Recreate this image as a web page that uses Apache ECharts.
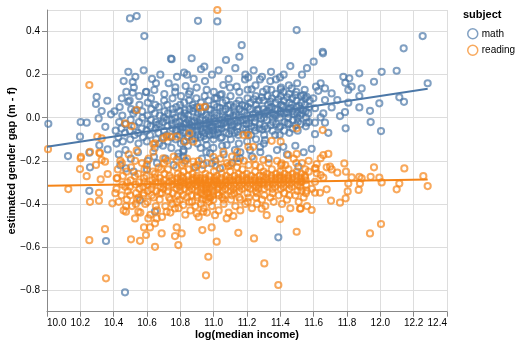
<!DOCTYPE html>
<html>
<head>
<meta charset="utf-8">
<script src="https://cdn.jsdelivr.net/npm/echarts@6/dist/echarts.min.js"></script>
<style>html,body{margin:0;padding:0;background:#fff}#c{width:520px;height:347px}</style>
</head>
<body>
<div id="c"></div>
<script>
var xTicks = [10.0,10.2,10.4,10.6,10.8,11.0,11.2,11.4,11.6,11.8,12.0,12.2,12.4];
var yTicks = [-0.8,-0.6,-0.4,-0.2,0.0,0.2,0.4];
var seriesNames = ['math','reading'];

var mathPoints = [
[10.008,-0.028],[10.202,-0.02],[10.238,-0.023],[10.126,-0.178],[10.198,-0.088],[10.254,-0.162],[10.298,0.097],[10.294,0.064],[10.362,0.079],[10.328,0.031],[10.384,0.016],[10.31,-0.003],[10.35,-0.042],[10.364,-0.147],[10.314,-0.128],
[10.498,0.461],[10.538,0.472],[10.584,0.379],[10.744,0.274],[10.488,0.213],[10.514,0.166],[10.488,0.074],[10.514,0.116],[10.594,0.119],[10.644,0.129],[10.528,0.032],
[10.906,0.45],[11.022,0.447],[11.498,0.407],[11.168,0.337],[11.154,0.283],[11.074,0.268],[10.868,0.276],[10.748,0.272],[10.822,0.209],[10.924,0.225],[10.944,0.237],[11.344,0.213],[11.278,0.178],[11.374,0.178],[11.398,0.187],[11.208,0.187],[11.188,0.178],[11.058,0.152],[11.138,0.144],[11.228,0.132],[11.318,0.132],[11.468,0.136],[11.402,0.132],[10.77,0.141],[10.832,0.147],[10.858,0.121],[10.958,0.129],[11.04,0.105],[11.008,0.09],
[12.254,0.379],[12.14,0.322],[11.654,0.306],[11.656,0.299],[12.098,0.218],[12.008,0.213],[11.874,0.206],[11.962,0.167],[12.284,0.16],[11.778,0.19],[11.814,0.183],[11.79,0.162],[11.888,0.136],[11.828,0.144],[11.808,0.129],[11.642,0.16],[11.614,0.144],[11.628,0.125],[11.668,0.136],[11.708,0.113],[11.874,0.101],[12.114,0.095],[12.142,0.074],[11.994,0.067],[11.808,0.07],[11.874,0.048],[11.938,0.032],[11.742,0.082],[11.668,0.082],[11.598,0.09],[11.558,0.097],[11.538,0.105],[11.708,0.048],[11.608,0.044],[11.658,0.02],[11.758,0.008],[11.788,0.026],[11.528,0.02],[11.558,-0.023],[11.608,-0.023],[11.668,-0.023],[11.642,0.002],[11.942,-0.02],[11.792,-0.049],[12.004,-0.062],[11.608,-0.076],[11.688,-0.07],[11.588,-0.144],
[10.254,-0.339],[10.354,-0.572],[10.468,-0.81],[10.558,-0.382],[10.648,-0.436],[11.388,-0.555],[10.474,-0.235],[10.258,-0.23],[10.788,-0.165],[10.818,-0.181],[10.978,-0.165],[11.158,-0.188],[11.218,-0.15],[11.508,-0.227],[10.988,-0.212],
[10.818,-0.158],[10.958,-0.127],[11.078,-0.127],[11.128,-0.15],[11.308,-0.104],[11.278,-0.135],[11.418,-0.135],[10.778,-0.057],[10.658,-0.034],[10.938,-0.219],[11.138,-0.188],[11.038,-0.235],[10.642,-0.181],[10.788,-0.181],
[10.46,0.17],[10.53,0.19],[10.58,0.22],[10.63,0.18],[10.68,0.2],[10.73,0.16],[10.78,0.19],[10.84,0.2],[10.88,0.18],[10.99,0.2],[11.03,0.22],[11.09,0.18],[11.13,0.23],[11.19,0.2],[11.24,0.22],[11.29,0.19],[11.34,0.17],[11.42,0.2],[11.46,0.24],[11.53,0.2],[11.56,0.23],[11.6,0.26],
[10.44,-0.22],[10.52,-0.25],[10.6,-0.24],[10.66,-0.21],[10.71,-0.19],[10.76,-0.22],[10.83,-0.2],[10.89,-0.23],[10.93,-0.19],[11.01,-0.2],[11.06,-0.17],[11.11,-0.21],[11.16,-0.16],[11.23,-0.18],[11.28,-0.16],[11.33,-0.19],[11.38,-0.15],[11.44,-0.17],[11.49,-0.13],[11.54,-0.16],
[10.412,-0.06],[10.405,0.03],[10.417,-0.12],[10.433,-0.02],[10.428,-0.09],[10.436,0.05],[10.431,-0.17],[10.452,0.01],[10.447,-0.05],[10.455,-0.11],[10.449,0.09],
[10.472,-0.03],[10.468,-0.07],[10.476,0.12],[10.471,-0.15],[10.502,-0.01],[10.497,-0.06],[10.505,0.04],[10.499,-0.1],[10.503,-0.19],[10.496,0.08],
[10.523,-0.04],[10.518,0.02],[10.526,-0.08],[10.521,0.14],[10.552,-0.02],[10.547,-0.07],[10.555,0.06],[10.549,-0.12],[10.553,0.1],[10.546,-0.16],
[10.573,0.0],[10.568,-0.05],[10.576,-0.09],[10.571,0.03],[10.602,-0.03],[10.597,-0.06],[10.605,0.07],[10.599,-0.11],[10.603,0.01],[10.596,0.12],[10.604,-0.2],
[10.623,-0.01],[10.618,-0.08],[10.626,0.04],[10.621,-0.04],[10.624,0.09],[10.652,-0.05],[10.647,0.02],[10.655,-0.1],[10.649,0.06],[10.653,-0.02],[10.646,-0.14],[10.654,0.16],
[10.673,-0.03],[10.668,-0.07],[10.676,0.01],[10.671,0.05],[10.674,-0.12],[10.702,-0.06],[10.697,-0.02],[10.705,0.03],[10.699,-0.09],[10.703,0.08],[10.696,-0.13],[10.704,0.11],[10.701,0.0],
[10.723,-0.04],[10.718,-0.08],[10.726,0.02],[10.721,0.06],[10.724,-0.11],[10.719,-0.01],[10.752,-0.05],[10.747,-0.01],[10.755,0.04],[10.749,-0.09],[10.753,0.09],[10.746,-0.14],[10.754,0.02],[10.751,-0.03],
[10.773,-0.06],[10.768,0.0],[10.776,0.05],[10.771,-0.1],[10.774,-0.02],[10.769,0.12],[10.802,-0.04],[10.797,-0.08],[10.805,0.01],[10.799,0.06],[10.803,-0.12],[10.796,-0.02],[10.804,0.1],[10.801,-0.06],[10.798,0.03],
[10.823,-0.03],[10.818,-0.07],[10.826,0.02],[10.821,-0.11],[10.824,0.07],[10.819,-0.15],[10.822,0.0],[10.852,-0.05],[10.847,-0.01],[10.855,0.04],[10.849,-0.09],[10.853,0.08],[10.846,-0.13],[10.854,-0.03],[10.851,0.11],[10.848,0.01],
[10.873,-0.06],[10.868,-0.02],[10.876,0.03],[10.871,-0.1],[10.874,0.06],[10.869,-0.04],[10.902,-0.04],[10.897,0.0],[10.905,-0.08],[10.899,0.05],[10.903,-0.12],[10.896,0.09],[10.904,-0.02],[10.901,-0.06],[10.898,0.14],[10.906,0.02],
[10.923,-0.05],[10.918,-0.01],[10.926,0.03],[10.921,-0.09],[10.924,0.07],[10.919,-0.03],[10.922,-0.14],[10.952,-0.03],[10.947,-0.07],[10.955,0.01],[10.949,0.05],[10.953,-0.1],[10.946,0.1],[10.954,-0.05],[10.951,-0.01],[10.948,0.17],[10.956,-0.16],
[10.973,-0.04],[10.968,0.0],[10.976,-0.08],[10.971,0.04],[10.974,-0.02],[10.969,0.08],[10.972,-0.06],[11.002,-0.02],[10.997,-0.06],[11.005,0.02],[10.999,-0.1],[11.003,0.06],[10.996,-0.04],[11.004,0.0],[11.001,0.12],[10.998,-0.14],[11.006,-0.08],
[11.023,-0.03],[11.018,0.01],[11.026,-0.07],[11.021,0.05],[11.024,-0.05],[11.019,0.09],[11.052,-0.01],[11.047,-0.05],[11.055,0.03],[11.049,-0.09],[11.053,0.07],[11.046,-0.03],[11.054,0.01],[11.051,-0.13],[11.048,0.11],
[11.073,-0.04],[11.068,0.0],[11.076,-0.07],[11.071,0.04],[11.074,0.08],[11.069,-0.02],[11.102,-0.02],[11.097,0.02],[11.105,-0.06],[11.099,0.06],[11.103,-0.1],[11.096,0.0],[11.104,-0.04],[11.101,0.1],[11.098,0.14],
[11.123,-0.03],[11.118,0.01],[11.126,-0.07],[11.121,0.05],[11.124,0.03],[11.152,0.0],[11.147,-0.04],[11.155,0.04],[11.149,-0.08],[11.153,0.08],[11.146,-0.02],[11.154,0.12],[11.151,-0.12],
[11.173,-0.01],[11.168,0.03],[11.176,-0.05],[11.171,0.06],[11.202,0.01],[11.197,-0.03],[11.205,0.05],[11.199,-0.07],[11.203,0.09],[11.196,-0.01],[11.204,0.13],[11.201,-0.11],
[11.223,0.0],[11.218,0.04],[11.226,-0.04],[11.221,0.07],[11.224,-0.08],[11.252,0.02],[11.247,-0.02],[11.255,0.06],[11.249,-0.06],[11.253,0.1],[11.246,0.0],[11.254,-0.1],[11.251,0.15],
[11.273,0.01],[11.268,0.04],[11.276,-0.03],[11.271,0.08],[11.274,-0.05],[11.302,0.0],[11.297,0.04],[11.305,-0.04],[11.299,0.08],[11.303,-0.08],[11.296,0.12],[11.304,0.02],[11.301,-0.12],
[11.323,0.03],[11.318,-0.01],[11.326,0.06],[11.321,-0.05],[11.324,0.1],[11.352,0.02],[11.347,0.05],[11.355,-0.02],[11.349,0.09],[11.353,-0.06],[11.346,0.13],[11.354,0.0],
[11.373,0.01],[11.368,0.04],[11.376,-0.03],[11.371,0.07],[11.374,0.11],[11.369,-0.08],[11.402,0.03],[11.397,0.0],[11.405,0.06],[11.399,-0.04],[11.403,0.1],[11.396,-0.08],[11.404,0.14],[11.401,0.02],
[11.423,0.02],[11.418,0.05],[11.426,-0.02],[11.421,0.08],[11.424,-0.06],[11.419,0.12],[11.452,0.04],[11.447,0.0],[11.455,0.07],[11.449,-0.03],[11.453,0.11],[11.446,0.02],[11.454,-0.07],[11.451,0.15],
[11.473,0.03],[11.468,0.06],[11.476,-0.01],[11.471,0.09],[11.474,-0.05],[11.502,0.02],[11.497,0.05],[11.505,-0.02],[11.499,0.08],[11.503,0.0],[11.496,0.12],[11.504,-0.06],[11.501,0.16],
[11.523,0.04],[11.518,0.01],[11.526,0.07],[11.521,-0.03],[11.524,0.1],[11.552,0.03],[11.547,0.06],[11.555,0.0],[11.549,0.09],[11.553,-0.04],[11.546,0.13],[11.573,0.05],[11.568,0.02],[11.576,0.08],[11.571,-0.02],
[10.812,-0.045],[10.836,-0.025],[10.861,-0.055],[10.884,-0.015],[10.909,-0.035],[10.931,-0.065],[10.962,-0.025],[10.984,-0.045],[11.011,-0.015],[11.033,-0.055],[11.061,-0.025],[11.084,-0.005],[11.112,-0.035],[11.134,0.015],[11.162,-0.015],[11.184,0.025],[11.212,-0.025],[11.236,0.015],[11.262,0.035],[11.284,-0.005],[11.312,0.025],[11.336,0.045],[11.362,0.015],[11.384,0.035],[11.412,0.055],[11.436,0.025],[11.462,0.045],[11.484,0.015],[11.512,0.055],[11.536,0.035],
[10.828,0.035],[10.879,0.045],[10.927,0.025],[10.982,0.035],[11.038,0.045],[11.087,0.055],[11.137,0.065],[11.188,0.055],[11.241,0.085],[11.289,0.095],[11.341,0.075],[11.389,0.085],[11.441,0.095],[11.491,0.105],
[10.843,-0.085],[10.889,-0.095],[10.941,-0.085],[10.993,-0.075],[11.042,-0.095],[11.092,-0.075],[11.143,-0.065],[11.193,-0.055],[11.244,-0.045],[11.293,-0.055],[11.342,-0.035],[11.393,-0.045],[11.443,-0.025],[11.493,-0.035]
];

var readingPoints = [
[10.006,-0.146],[10.254,0.152],[11.022,0.5],[10.538,0.036],[10.468,-0.026],[10.508,-0.039],[10.302,-0.088],[10.328,-0.096],[10.718,-0.088],[10.778,-0.088],[10.638,-0.122],[10.538,-0.153],[10.204,-0.181],[10.314,-0.162],[10.258,-0.158],
[10.918,0.048],[10.948,0.051],[11.178,-0.08],[11.208,-0.08],[11.498,-0.049],[11.654,-0.057],[11.402,-0.111],[11.348,-0.107],[10.854,-0.072],[10.698,-0.096],[10.738,-0.088],[10.648,-0.119],[10.828,-0.111],[10.878,-0.111],[11.058,-0.158],[11.142,-0.158],[11.208,-0.135],[11.238,-0.135],[11.658,-0.173],[11.612,-0.235],[10.638,-0.158],[10.698,-0.188],[10.778,-0.196],[10.878,-0.204],[10.998,-0.181],[11.088,-0.224],[11.148,-0.204],[11.298,-0.196],[11.408,-0.212],[11.498,-0.168],[11.448,-0.173],
[10.202,-0.188],[10.198,-0.238],[10.294,-0.219],[10.328,-0.196],[10.348,-0.204],[10.318,-0.165],[10.238,-0.271],[10.322,-0.286],[10.364,-0.261],[10.128,-0.331],[10.258,-0.39],[10.312,-0.348],[10.312,-0.385],[10.392,-0.397],[10.418,-0.281],[10.348,-0.517],[10.254,-0.568],[10.354,-0.745],
[10.504,-0.564],[10.558,-0.571],[10.594,-0.544],[10.648,-0.599],[10.582,-0.509],[10.618,-0.509],[10.688,-0.537],[10.648,-0.49],[10.658,-0.467],[10.608,-0.467],[10.528,-0.467],[10.474,-0.436],[10.548,-0.436],[10.474,-0.41],[10.778,-0.509],[10.768,-0.549],[10.788,-0.591],[10.718,-0.436],
[10.968,-0.645],[10.954,-0.731],[11.388,-0.776],[11.304,-0.676],[10.808,-0.537],[10.932,-0.521],[10.988,-0.509],[11.018,-0.575],[11.148,-0.534],[11.242,-0.56],[11.498,-0.529],[11.398,-0.47],[11.518,-0.422],[11.318,-0.452],[11.288,-0.422],[11.078,-0.467],[11.118,-0.456],[11.008,-0.452],[10.898,-0.444],[10.938,-0.436],[10.818,-0.405],[10.768,-0.421],
[11.938,-0.537],[12.004,-0.493],[12.144,-0.235],[11.962,-0.23],[12.258,-0.271],[12.284,-0.317],[12.098,-0.332],[12.114,-0.305],[12.008,-0.3],[11.994,-0.278],[11.942,-0.274],[11.888,-0.281],[11.874,-0.274],[11.878,-0.305],[11.87,-0.335],[11.808,-0.305],[11.804,-0.342],[11.792,-0.374],[11.758,-0.394],[11.704,-0.385],[11.588,-0.428],[11.522,-0.421],
[11.784,-0.212],[11.794,-0.25],[11.828,-0.277],[11.742,-0.255],[11.708,-0.24],[11.698,-0.227],[11.678,-0.23],[11.642,-0.266],[11.658,-0.278],[11.608,-0.235],[11.618,-0.215],[11.642,-0.188],[11.688,-0.168],[11.608,-0.297],[11.608,-0.348],[11.638,-0.348],[11.678,-0.332],[11.558,-0.339],[11.528,-0.339],[11.548,-0.277],[11.528,-0.297],[11.618,-0.258],
[10.422,-0.28],[10.417,-0.33],[10.425,-0.24],[10.452,-0.31],[10.447,-0.36],[10.455,-0.27],[10.449,-0.21],[10.482,-0.3],[10.477,-0.25],[10.485,-0.34],[10.479,-0.38],
[10.502,-0.29],[10.497,-0.32],[10.505,-0.23],[10.499,-0.36],[10.532,-0.31],[10.527,-0.27],[10.535,-0.35],[10.529,-0.2],[10.533,-0.4],
[10.552,-0.3],[10.547,-0.26],[10.555,-0.33],[10.549,-0.37],[10.582,-0.28],[10.577,-0.32],[10.585,-0.24],[10.579,-0.36],[10.583,-0.3],
[10.602,-0.31],[10.597,-0.27],[10.605,-0.34],[10.599,-0.22],[10.603,-0.39],[10.632,-0.29],[10.627,-0.33],[10.635,-0.25],[10.629,-0.36],[10.633,-0.31],
[10.652,-0.3],[10.647,-0.26],[10.655,-0.34],[10.649,-0.28],[10.653,-0.41],[10.682,-0.32],[10.677,-0.28],[10.685,-0.24],[10.679,-0.35],[10.683,-0.3],[10.676,-0.38],
[10.702,-0.29],[10.697,-0.33],[10.705,-0.26],[10.699,-0.31],[10.703,-0.21],[10.732,-0.3],[10.727,-0.34],[10.735,-0.27],[10.729,-0.32],[10.733,-0.37],[10.726,-0.24],
[10.752,-0.31],[10.747,-0.28],[10.755,-0.35],[10.749,-0.29],[10.753,-0.4],[10.782,-0.3],[10.777,-0.33],[10.785,-0.26],[10.779,-0.31],[10.783,-0.36],[10.776,-0.23],[10.784,-0.28],
[10.802,-0.29],[10.797,-0.32],[10.805,-0.27],[10.799,-0.34],[10.803,-0.3],[10.796,-0.38],[10.822,-0.31],[10.817,-0.28],[10.825,-0.33],[10.819,-0.25],[10.823,-0.3],[10.816,-0.36],[10.824,-0.21],
[10.852,-0.3],[10.847,-0.27],[10.855,-0.32],[10.849,-0.29],[10.853,-0.34],[10.846,-0.31],[10.854,-0.39],[10.851,-0.24],[10.872,-0.29],[10.867,-0.31],[10.875,-0.28],[10.869,-0.33],[10.873,-0.26],[10.866,-0.36],
[10.902,-0.3],[10.897,-0.28],[10.905,-0.32],[10.899,-0.27],[10.903,-0.34],[10.896,-0.31],[10.904,-0.37],[10.901,-0.22],[10.898,-0.29],
[10.922,-0.31],[10.917,-0.29],[10.925,-0.33],[10.919,-0.28],[10.923,-0.35],[10.916,-0.3],[10.924,-0.4],
[10.952,-0.3],[10.947,-0.28],[10.955,-0.32],[10.949,-0.34],[10.953,-0.31],[10.946,-0.36],[10.954,-0.38],[10.951,-0.26],[10.948,-0.29],[10.956,-0.33],
[10.972,-0.29],[10.967,-0.31],[10.975,-0.33],[10.969,-0.35],[10.973,-0.37],[10.966,-0.3],[10.974,-0.27],[10.971,-0.39],
[11.002,-0.3],[10.997,-0.32],[11.005,-0.28],[10.999,-0.34],[11.003,-0.31],[10.996,-0.36],[11.004,-0.29],[11.001,-0.25],[10.998,-0.38],
[11.022,-0.31],[11.017,-0.29],[11.025,-0.33],[11.019,-0.27],[11.023,-0.35],[11.016,-0.3],
[11.052,-0.3],[11.047,-0.28],[11.055,-0.32],[11.049,-0.26],[11.053,-0.34],[11.046,-0.31],[11.054,-0.23],[11.051,-0.37],
[11.072,-0.29],[11.067,-0.31],[11.075,-0.27],[11.069,-0.33],[11.073,-0.3],[11.066,-0.36],
[11.102,-0.3],[11.097,-0.28],[11.105,-0.32],[11.099,-0.25],[11.103,-0.34],[11.096,-0.29],[11.104,-0.38],[11.101,-0.22],
[11.122,-0.31],[11.117,-0.29],[11.125,-0.27],[11.119,-0.33],[11.123,-0.35],
[11.152,-0.3],[11.147,-0.28],[11.155,-0.32],[11.149,-0.26],[11.153,-0.34],[11.146,-0.29],[11.154,-0.37],
[11.172,-0.29],[11.167,-0.31],[11.175,-0.27],[11.169,-0.33],[11.173,-0.24],
[11.202,-0.3],[11.197,-0.28],[11.205,-0.32],[11.199,-0.26],[11.203,-0.35],[11.196,-0.29],[11.204,-0.39],
[11.222,-0.29],[11.217,-0.31],[11.225,-0.27],[11.219,-0.33],
[11.252,-0.3],[11.247,-0.28],[11.255,-0.32],[11.249,-0.25],[11.253,-0.34],[11.246,-0.29],[11.254,-0.37],[11.251,-0.22],
[11.272,-0.29],[11.267,-0.31],[11.275,-0.27],[11.269,-0.33],[11.273,-0.3],
[11.302,-0.29],[11.297,-0.27],[11.305,-0.31],[11.299,-0.25],[11.303,-0.33],[11.296,-0.3],[11.304,-0.36],
[11.322,-0.3],[11.317,-0.28],[11.325,-0.32],[11.319,-0.26],
[11.352,-0.29],[11.347,-0.27],[11.355,-0.31],[11.349,-0.24],[11.353,-0.33],[11.346,-0.28],[11.354,-0.35],
[11.372,-0.28],[11.367,-0.3],[11.375,-0.26],[11.369,-0.32],
[11.402,-0.29],[11.397,-0.27],[11.405,-0.31],[11.399,-0.25],[11.403,-0.33],[11.396,-0.28],[11.404,-0.22],
[11.422,-0.28],[11.417,-0.3],[11.425,-0.26],[11.419,-0.32],[11.423,-0.35],
[11.452,-0.29],[11.447,-0.27],[11.455,-0.31],[11.449,-0.24],[11.453,-0.33],[11.446,-0.28],[11.454,-0.36],
[11.472,-0.28],[11.467,-0.3],[11.475,-0.26],[11.469,-0.32],
[11.502,-0.29],[11.497,-0.27],[11.505,-0.31],[11.499,-0.25],[11.503,-0.34],[11.496,-0.21],
[11.522,-0.28],[11.517,-0.3],[11.525,-0.26],[11.519,-0.32],
[11.552,-0.29],[11.547,-0.27],[11.555,-0.31],[11.549,-0.24],[11.553,-0.35],
[10.43,-0.39],[10.46,-0.43],[10.51,-0.41],[10.56,-0.44],[10.59,-0.40],[10.62,-0.45],[10.66,-0.43],[10.69,-0.46],[10.71,-0.41],[10.74,-0.44],[10.79,-0.42],[10.83,-0.45],[10.86,-0.43],[10.89,-0.41],[10.91,-0.46],[10.94,-0.42],[10.96,-0.44],[10.99,-0.41],[11.03,-0.43],[11.06,-0.40],[11.09,-0.44],[11.13,-0.41],[11.16,-0.43],[11.19,-0.40],[11.23,-0.42],[11.26,-0.40],[11.31,-0.41],[11.36,-0.39],[11.41,-0.40],[11.46,-0.42],[11.51,-0.39],[11.56,-0.41],
[10.44,-0.2],[10.49,-0.17],[10.57,-0.21],[10.61,-0.19],[10.67,-0.23],[10.72,-0.2],[10.76,-0.18],[10.81,-0.22],[10.84,-0.19],[10.88,-0.23],[10.91,-0.2],[10.93,-0.24],[10.96,-0.21],[11.01,-0.22],[11.04,-0.19],[11.08,-0.21],[11.11,-0.18],[11.14,-0.23],[11.18,-0.2],[11.21,-0.22],[11.24,-0.19],[11.28,-0.23],[11.33,-0.21],[11.38,-0.2],[11.43,-0.22],[11.48,-0.19],[11.53,-0.21],[11.57,-0.2],
[10.41,-0.35],[10.47,-0.32],[10.54,-0.38],[10.58,-0.35],[10.64,-0.37],[10.69,-0.35],[10.74,-0.38],[10.78,-0.39],[10.84,-0.37],[10.87,-0.39],[10.9,-0.36],[10.93,-0.38],[10.96,-0.35],[10.98,-0.37],[11.03,-0.36],[11.06,-0.38],[11.11,-0.36],[11.16,-0.38],[11.21,-0.37],[11.26,-0.35],[11.29,-0.38],[11.34,-0.37],[11.39,-0.36],[11.44,-0.38],[11.49,-0.36],[11.54,-0.37],[11.59,-0.33],[11.57,-0.25]
];

var mathTrend = [[10.0,-0.135],[12.284,0.135]];
var readingTrend = [[10.006,-0.316],[12.284,-0.287]];

var colors = {math:'#4c78a8', reading:'#f58518'};
var FONT = 'Liberation Sans, Arial, Helvetica, sans-serif';

function fmt(v){
  var s = Math.abs(v).toFixed(1);
  return (v < -1e-9 ? '\u2212' : '') + s;
}

var chart = echarts.init(document.getElementById('c'), null, {renderer:'canvas'});
function scatter(name, pts){
  return {
    type:'scatter', name:name, data:pts, symbol:'circle', symbolSize:6.2,
    itemStyle:{color:'rgba(0,0,0,0)', borderColor:colors[name], borderWidth:2, opacity:0.7},
    emphasis:{disabled:true}, silent:true, z:2
  };
}
function trend(name, pts){
  return {
    type:'line', name:name+' trend', data:pts, symbol:'none', showSymbol:false,
    lineStyle:{color:colors[name], width:2}, z:3, silent:true
  };
}
chart.setOption({
  animation:false,
  textStyle:{fontFamily:FONT},
  grid:{left:47, right:73, top:10, bottom:35.3, containLabel:false, outerBoundsMode:'none'},
  xAxis:{
    type:'value', min:xTicks[0], max:xTicks[xTicks.length-1], interval:0.2,
    name:'log(median income)', nameLocation:'middle', nameGap:18, nameMoveOverlap:false,
    nameTextStyle:{fontFamily:FONT, fontSize:11, fontWeight:'bold', color:'#000'},
    axisLine:{show:true, onZero:false, lineStyle:{color:'#888', width:1}},
    axisTick:{show:true, length:5, lineStyle:{color:'#888'}},
    axisLabel:{fontFamily:FONT, fontSize:10, color:'#000', margin:7, formatter:function(v){return v.toFixed(1);}, alignMinLabel:'left', alignMaxLabel:'right'},
    splitLine:{show:true, lineStyle:{color:'#ddd', width:1}}
  },
  yAxis:{
    type:'value', min:-0.9, max:0.5, splitNumber:7,
    name:'estimated gender gap (m - f)', nameLocation:'middle', nameGap:29.5, nameMoveOverlap:false,
    nameTextStyle:{fontFamily:FONT, fontSize:11, fontWeight:'bold', color:'#000'},
    axisLine:{show:true, lineStyle:{color:'#888', width:1}},
    axisTick:{show:true, length:5, lineStyle:{color:'#888'}},
    axisLabel:{fontFamily:FONT, fontSize:10, color:'#000', margin:7, showMinLabel:false, showMaxLabel:false,
      formatter:function(v){
        for (var i=0;i<yTicks.length;i++){ if (Math.abs(yTicks[i]-v)<1e-6) return fmt(v); }
        return '';
      }},
    splitLine:{show:true, lineStyle:{color:'#ddd', width:1}}
  },
  legend:{
    orient:'vertical', left:462, top:23, itemWidth:10, itemHeight:10, itemGap:5,
    textStyle:{fontFamily:FONT, fontSize:10, color:'#000', padding:[0,0,0,-1]},
    data: seriesNames.map(function(n){
      return {name:n, icon:'circle', itemStyle:{color:'rgba(0,0,0,0)', borderColor:colors[n], borderWidth:1.5, opacity:0.7}};
    }),
    selectedMode:false
  },
  graphic:[{type:'text', left:463, top:9, style:{text:'subject', font:'bold 11px '+FONT, fill:'#000'}}],
  series:[
    scatter('math', mathPoints),
    scatter('reading', readingPoints),
    trend('math', mathTrend),
    trend('reading', readingTrend)
  ]
});
</script>
</body>
</html>
